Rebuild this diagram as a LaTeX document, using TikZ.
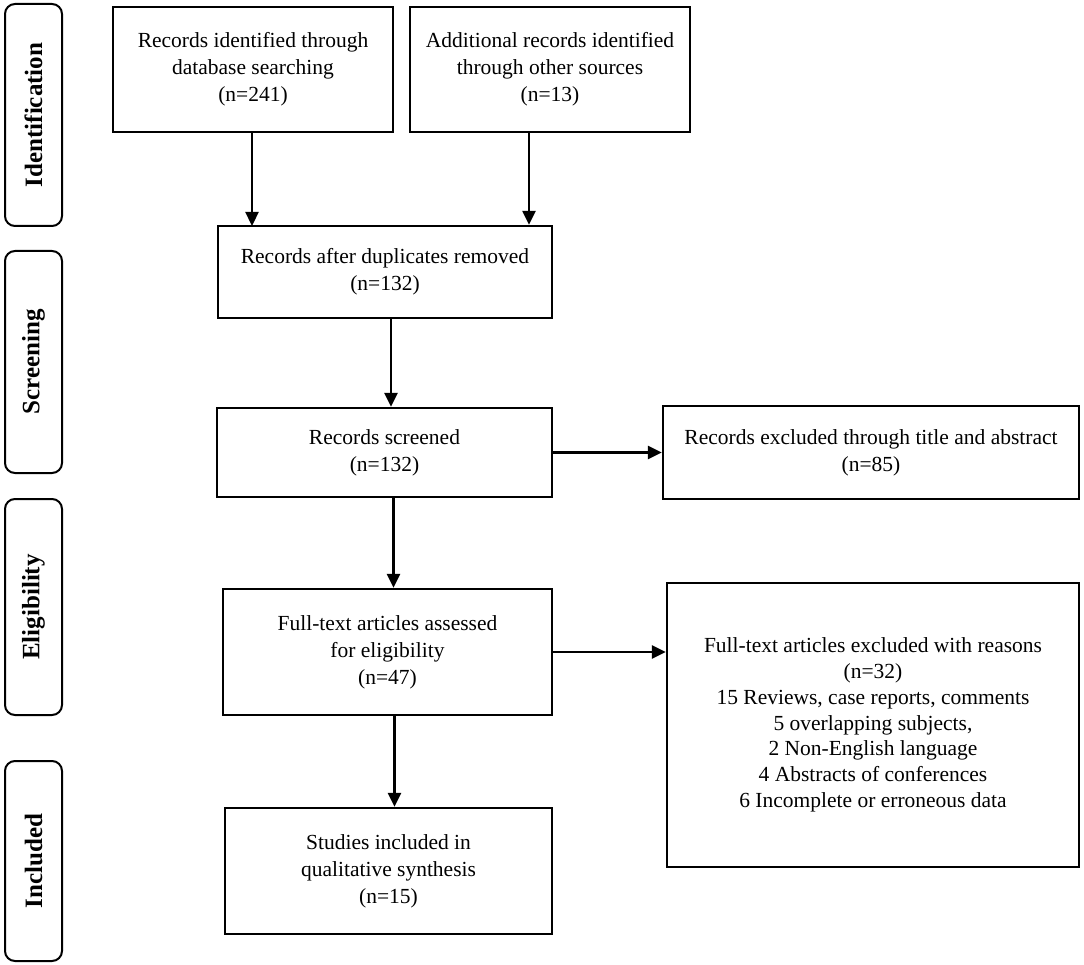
\documentclass[tikz,border=0pt]{standalone}
\usepackage{fontspec}
\setmainfont{Liberation Serif}
\usetikzlibrary{arrows.meta}
\begin{document}
\begin{tikzpicture}[x=1pt,y=-1pt,
  box/.style={draw=black,line width=2.3pt,align=center,inner sep=0pt,
    font=\fontsize{21.5}{27}\selectfont},
  side/.style={draw=black,line width=2pt,rounded corners=10pt,inner sep=0pt,
    minimum width=57pt},
  sidetext/.style={rotate=90,font=\fontsize{25}{30}\selectfont\bfseries},
  arr/.style={line width=2.3pt,-{Triangle[length=14pt,width=13pt]}}]
\useasboundingbox (0,0) rectangle (1084,965);
% phase labels
\node[side,minimum height=222pt] (s1) at (33.5,115) {};
\node[sidetext] (t1) at (s1.center) {Identification};
\node[side,minimum height=222pt] (s2) at (33.5,362) {};
\node[sidetext] (t2) at (s2.center) {Screening};
\node[side,minimum height=216pt] (s3) at (33.5,607) {};
\node[sidetext] (t3) at (s3.center) {Eligibility};
\node[side,minimum height=200pt] (s4) at (33.5,861) {};
\node[sidetext] (t4) at (s4.center) {Included};
% boxes
\node[box,minimum width=280pt,minimum height=125pt] (db) at (253,69.5)
  {Records identified through\\database searching\\(n=241)};
\node[box,minimum width=280pt,minimum height=125pt] (add) at (550,69.5)
  {Additional records identified\\through other sources\\(n=13)};
\node[box,minimum width=334pt,minimum height=92pt] (dup) at (385,272)
  {Records after duplicates removed\\(n=132)};
\node[box,minimum width=335pt,minimum height=89pt] (scr) at (384.5,452.5)
  {Records screened\\(n=132)};
\node[box,minimum width=416pt,minimum height=93pt] (ex1) at (871,452.5)
  {Records excluded through title and abstract\\(n=85)};
\node[box,minimum width=329pt,minimum height=126pt] (ft) at (387.5,652)
  {Full-text articles assessed\\for eligibility\\(n=47)};
\node[box,minimum width=412pt,minimum height=284pt,
  font=\fontsize{21.5}{25.8}\selectfont] (ex2) at (873,725)
  {Full-text articles excluded with reasons\\(n=32)\\15 Reviews, case reports, comments\\5 overlapping subjects,\\2 Non-English language\\4 Abstracts of conferences\\6 Incomplete or erroneous data};
\node[box,minimum width=327pt,minimum height=126pt] (inc) at (388.5,871)
  {Studies included in\\qualitative synthesis\\(n=15)};
% arrows
\draw[arr] (252,132) -- (252,226);
\draw[arr] ([xshift=-21pt]add.south) -- ([xshift=-21pt]add.south |- dup.north);
\draw[arr] ([xshift=6pt]dup.south) -- ([xshift=6pt]dup.south |- scr.north);
\draw[arr] ([xshift=9pt]scr.south) -- ([xshift=9pt]scr.south |- ft.north);
\draw[arr] (scr.east) -- (ex1.west);
\draw[arr] (ft.east) -- (ft.east -| ex2.west);
\draw[arr] ([xshift=7pt]ft.south) -- ([xshift=7pt]ft.south |- inc.north);
\end{tikzpicture}
\end{document}
